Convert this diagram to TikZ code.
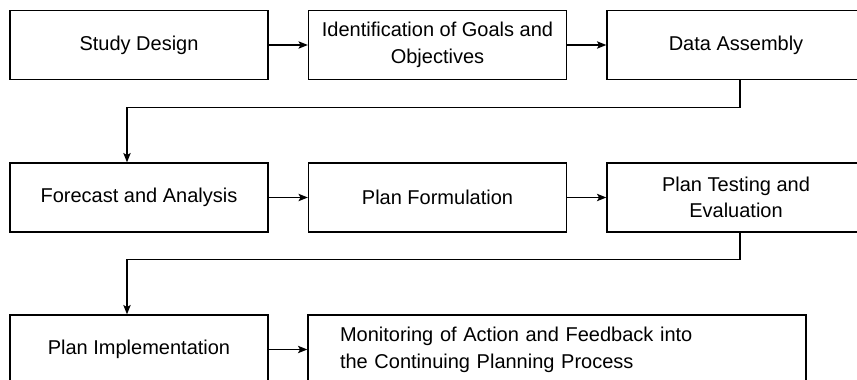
\documentclass[tikz,border=0pt]{standalone}
\usepackage{fontspec}
\setmainfont{Liberation Sans}
\usepackage{tikz}
\usetikzlibrary{arrows.meta}
\tikzset{
    stepbox/.style = {rectangle, draw=black, line width=1pt, minimum width=193.5pt, minimum height=51.75pt, align=center, inner sep=2pt},
    widebox/.style = {rectangle, draw=black, line width=1pt, minimum height=51.75pt, text width=325.5pt, inner xsep=24pt, align=left},
    edgen/.style = {-{Stealth[length=7pt,width=5.5pt,inset=1.5pt]}, line width=0.9pt},
    edgel/.style = {-{Stealth[length=7pt,width=5.5pt,inset=1.5pt]}, line width=0.9pt, rounded corners=0pt}
}

\begin{document}
\begin{tikzpicture}[x=0.75pt, y=-0.75pt,
	font=\fontsize{15pt}{20pt}\selectfont]
  \useasboundingbox (0,0) rectangle (857,379);
  \clip (0,0) rectangle (857,379);

  % first row
  \node[stepbox] at (139,45)   (study) {Study Design};
  \node[stepbox] at (437.5,45) (goals) {Identification of Goals and\\Objectives};
  \node[stepbox] at (736,45)   (data)  {Data Assembly};

  % second row
  \node[stepbox] at (139,197.5)   (fore) {Forecast and Analysis};
  \node[stepbox] at (437.5,197.5) (form) {Plan Formulation};
  \node[stepbox] at (736,197.5)   (test) {Plan Testing and\\Evaluation};

  % third row
  \node[stepbox] at (139,349.5) (impl) {Plan Implementation};
  \node[widebox] at (557,349.5) (moni) {Monitoring of Action and Feedback into\\the Continuing Planning Process};

  \draw[edgen] (study) -- (goals);
  \draw[edgen] (goals) -- (data);
  \draw[edgen] (fore) -- (form);
  \draw[edgen] (form) -- (test);
  \draw[edgen] (impl) -- (moni);

  % return lines
  \draw[edgel] ([xshift=3pt]data.south) -- ++(0,27) -| ([xshift=-9pt]fore.north);
  \draw[edgel] ([xshift=3pt]test.south) -- ++(0,27) -| ([xshift=-9pt]impl.north);

\end{tikzpicture}
\end{document}
